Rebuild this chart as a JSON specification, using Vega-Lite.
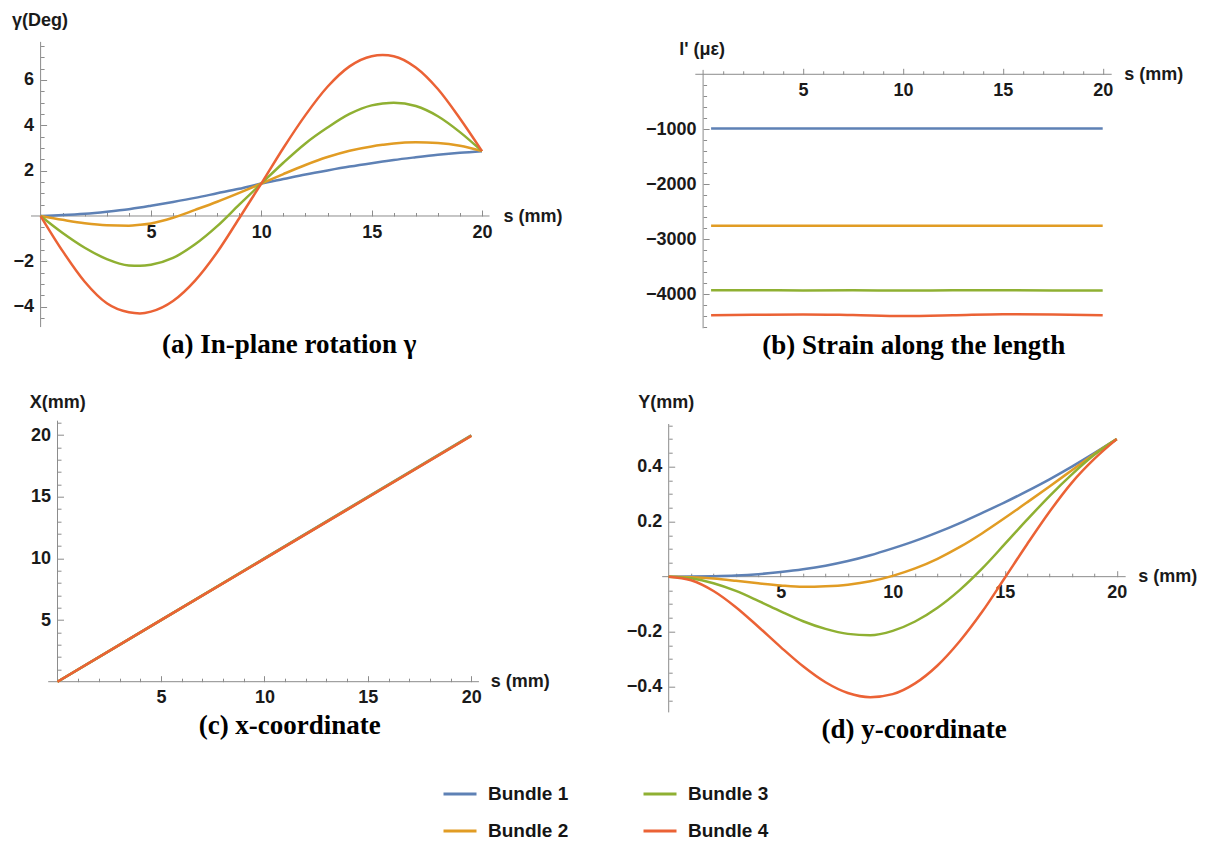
{
  "$schema": "https://vega.github.io/schema/vega-lite/v6.json",
  "padding": {"left": 11, "top": 11, "right": 0, "bottom": 0},
  "background": "white",
  "datasets": {
    "gamma": [
      {"s": 0, "Bundle 1": 0, "Bundle 2": 0, "Bundle 3": 0, "Bundle 4": 0},
      {"s": 1, "Bundle 1": 0.04, "Bundle 2": -0.17, "Bundle 3": -0.75, "Bundle 4": -1.55},
      {"s": 2, "Bundle 1": 0.1, "Bundle 2": -0.32, "Bundle 3": -1.4, "Bundle 4": -2.9},
      {"s": 3, "Bundle 1": 0.19, "Bundle 2": -0.41, "Bundle 3": -1.9, "Bundle 4": -3.85},
      {"s": 4, "Bundle 1": 0.3, "Bundle 2": -0.43, "Bundle 3": -2.18, "Bundle 4": -4.25},
      {"s": 4.5, "Bundle 1": 0.37, "Bundle 2": -0.39, "Bundle 3": -2.2, "Bundle 4": -4.3},
      {"s": 5, "Bundle 1": 0.45, "Bundle 2": -0.33, "Bundle 3": -2.15, "Bundle 4": -4.22},
      {"s": 6, "Bundle 1": 0.62, "Bundle 2": -0.08, "Bundle 3": -1.85, "Bundle 4": -3.75},
      {"s": 7, "Bundle 1": 0.8, "Bundle 2": 0.27, "Bundle 3": -1.25, "Bundle 4": -2.85},
      {"s": 8, "Bundle 1": 1.0, "Bundle 2": 0.63, "Bundle 3": -0.45, "Bundle 4": -1.6},
      {"s": 9, "Bundle 1": 1.2, "Bundle 2": 1.02, "Bundle 3": 0.5, "Bundle 4": -0.1},
      {"s": 10, "Bundle 1": 1.43, "Bundle 2": 1.43, "Bundle 3": 1.43, "Bundle 4": 1.43},
      {"s": 11, "Bundle 1": 1.63, "Bundle 2": 1.85, "Bundle 3": 2.35, "Bundle 4": 3.0},
      {"s": 12, "Bundle 1": 1.83, "Bundle 2": 2.25, "Bundle 3": 3.2, "Bundle 4": 4.45},
      {"s": 13, "Bundle 1": 2.01, "Bundle 2": 2.6, "Bundle 3": 3.9, "Bundle 4": 5.7},
      {"s": 14, "Bundle 1": 2.18, "Bundle 2": 2.88, "Bundle 3": 4.5, "Bundle 4": 6.6},
      {"s": 15, "Bundle 1": 2.33, "Bundle 2": 3.07, "Bundle 3": 4.88, "Bundle 4": 7.05},
      {"s": 15.5, "Bundle 1": 2.4, "Bundle 2": 3.14, "Bundle 3": 4.96, "Bundle 4": 7.1},
      {"s": 16, "Bundle 1": 2.47, "Bundle 2": 3.2, "Bundle 3": 5.0, "Bundle 4": 7.05},
      {"s": 17, "Bundle 1": 2.59, "Bundle 2": 3.25, "Bundle 3": 4.85, "Bundle 4": 6.55},
      {"s": 18, "Bundle 1": 2.7, "Bundle 2": 3.22, "Bundle 3": 4.4, "Bundle 4": 5.6},
      {"s": 19, "Bundle 1": 2.79, "Bundle 2": 3.1, "Bundle 3": 3.7, "Bundle 4": 4.3},
      {"s": 20, "Bundle 1": 2.86, "Bundle 2": 2.86, "Bundle 3": 2.86, "Bundle 4": 2.86}
    ],
    "strain": [
      {"s": 0.4, "Bundle 1": -985, "Bundle 2": -2755, "Bundle 3": -3928, "Bundle 4": -4380},
      {"s": 2.5, "Bundle 1": -985, "Bundle 2": -2755, "Bundle 3": -3925, "Bundle 4": -4372},
      {"s": 5, "Bundle 1": -985, "Bundle 2": -2755, "Bundle 3": -3930, "Bundle 4": -4365},
      {"s": 7.5, "Bundle 1": -985, "Bundle 2": -2755, "Bundle 3": -3926, "Bundle 4": -4378},
      {"s": 10, "Bundle 1": -985, "Bundle 2": -2755, "Bundle 3": -3932, "Bundle 4": -4395},
      {"s": 12.5, "Bundle 1": -985, "Bundle 2": -2755, "Bundle 3": -3927, "Bundle 4": -4382},
      {"s": 15, "Bundle 1": -985, "Bundle 2": -2755, "Bundle 3": -3924, "Bundle 4": -4362},
      {"s": 17.5, "Bundle 1": -985, "Bundle 2": -2755, "Bundle 3": -3929, "Bundle 4": -4368},
      {"s": 20, "Bundle 1": -985, "Bundle 2": -2755, "Bundle 3": -3930, "Bundle 4": -4380}
    ],
    "xcoord": [
      {"s": 0, "Bundle 1": 0, "Bundle 2": 0, "Bundle 3": 0, "Bundle 4": 0},
      {"s": 5, "Bundle 1": 5, "Bundle 2": 5, "Bundle 3": 4.99, "Bundle 4": 4.99},
      {"s": 10, "Bundle 1": 10, "Bundle 2": 9.99, "Bundle 3": 9.98, "Bundle 4": 9.96},
      {"s": 15, "Bundle 1": 15, "Bundle 2": 14.98, "Bundle 3": 14.96, "Bundle 4": 14.94},
      {"s": 20, "Bundle 1": 19.99, "Bundle 2": 19.97, "Bundle 3": 19.95, "Bundle 4": 19.93}
    ],
    "ycoord": [
      {"s": 0, "Bundle 1": 0, "Bundle 2": 0, "Bundle 3": 0, "Bundle 4": 0},
      {"s": 1, "Bundle 1": 0.0003, "Bundle 2": -0.002, "Bundle 3": -0.006, "Bundle 4": -0.013},
      {"s": 2, "Bundle 1": 0.0015, "Bundle 2": -0.007, "Bundle 3": -0.024, "Bundle 4": -0.052},
      {"s": 3, "Bundle 1": 0.004, "Bundle 2": -0.015, "Bundle 3": -0.052, "Bundle 4": -0.111},
      {"s": 4, "Bundle 1": 0.009, "Bundle 2": -0.024, "Bundle 3": -0.088, "Bundle 4": -0.182},
      {"s": 5, "Bundle 1": 0.017, "Bundle 2": -0.032, "Bundle 3": -0.126, "Bundle 4": -0.256},
      {"s": 6, "Bundle 1": 0.027, "Bundle 2": -0.037, "Bundle 3": -0.162, "Bundle 4": -0.326},
      {"s": 7, "Bundle 1": 0.04, "Bundle 2": -0.035, "Bundle 3": -0.19, "Bundle 4": -0.384},
      {"s": 8, "Bundle 1": 0.057, "Bundle 2": -0.029, "Bundle 3": -0.208, "Bundle 4": -0.423},
      {"s": 9, "Bundle 1": 0.078, "Bundle 2": -0.017, "Bundle 3": -0.213, "Bundle 4": -0.438},
      {"s": 10, "Bundle 1": 0.103, "Bundle 2": 0.003, "Bundle 3": -0.197, "Bundle 4": -0.427},
      {"s": 11, "Bundle 1": 0.13, "Bundle 2": 0.03, "Bundle 3": -0.163, "Bundle 4": -0.388},
      {"s": 12, "Bundle 1": 0.161, "Bundle 2": 0.065, "Bundle 3": -0.113, "Bundle 4": -0.323},
      {"s": 13, "Bundle 1": 0.195, "Bundle 2": 0.108, "Bundle 3": -0.048, "Bundle 4": -0.234},
      {"s": 14, "Bundle 1": 0.232, "Bundle 2": 0.158, "Bundle 3": 0.03, "Bundle 4": -0.127},
      {"s": 15, "Bundle 1": 0.27, "Bundle 2": 0.213, "Bundle 3": 0.118, "Bundle 4": -0.005},
      {"s": 16, "Bundle 1": 0.311, "Bundle 2": 0.27, "Bundle 3": 0.207, "Bundle 4": 0.118},
      {"s": 17, "Bundle 1": 0.354, "Bundle 2": 0.328, "Bundle 3": 0.293, "Bundle 4": 0.236},
      {"s": 18, "Bundle 1": 0.4, "Bundle 2": 0.387, "Bundle 3": 0.372, "Bundle 4": 0.342},
      {"s": 19, "Bundle 1": 0.449, "Bundle 2": 0.446, "Bundle 3": 0.443, "Bundle 4": 0.428},
      {"s": 20, "Bundle 1": 0.5, "Bundle 2": 0.5, "Bundle 3": 0.5, "Bundle 4": 0.5}
    ]
  },
  "columns": 2,
  "bounds": "flush",
  "spacing": {"row": 91.7, "column": 172.2},
  "concat": [
    {
      "width": 458.5,
      "height": 286.3,
      "title": {"text": "(a) In-plane rotation γ", "dx": 29, "offset": 4},
      "data": {"name": "gamma"},
      "transform": [{"fold": ["Bundle 1", "Bundle 2", "Bundle 3", "Bundle 4"], "as": ["bundle", "v"]}],
      "resolve": {"axis": {"x": "independent", "y": "independent"}},
      "layer": [
        {
          "data": {"values": [{}]},
          "mark": {"type": "rule", "color": "#8c8c8c", "strokeWidth": 1},
          "encoding": {
            "x": {"datum": -0.435, "type": "quantitative",
              "axis": {"orient": "bottom", "offset": -112.3, "labels": false, "title": null, "tickSize": -3.5,
                "values": [1,2,3,4,6,7,8,9,11,12,13,14,16,17,18,19]}},
            "x2": {"datum": 20.34},
            "y": {"datum": 0, "type": "quantitative",
              "axis": {"orient": "left", "offset": -9.6, "labels": false, "title": null, "tickSize": -3.5,
                "values": [-4.5,-3.5,-3,-2.5,-1.5,-1,-0.5,0.5,1,1.5,2.5,3,3.5,4.5,5,5.5,6.5,7,7.5]}}
          }
        },
        {
          "data": {"values": [{}]},
          "mark": {"type": "rule", "color": "#8c8c8c", "strokeWidth": 1},
          "encoding": {
            "x": {"datum": 0, "type": "quantitative", "axis": null},
            "y": {"datum": -4.9, "type": "quantitative", "axis": null},
            "y2": {"datum": 7.68}
          }
        },
        {
          "mark": {"type": "line", "strokeWidth": 2.5, "interpolate": "monotone"},
          "encoding": {
            "x": {
              "field": "s", "type": "quantitative",
              "scale": {"domain": [-0.435, 20.34], "nice": false, "zero": false},
              "axis": {
                "orient": "bottom", "offset": -112.3, "format": "d",
                "values": [5, 10, 15, 20], "tickSize": -6, "labelPadding": 13,
                "title": "s (mm)", "titleX": 472, "titleY": 0, "titleAngle": 0, "titleAlign": "left", "titleBaseline": "middle"
              }
            },
            "y": {
              "field": "v", "type": "quantitative",
              "scale": {"domain": [-4.954, 7.675], "nice": false, "zero": false},
              "axis": {
                "orient": "left", "offset": -9.6, "format": "d",
                "values": [-4, -2, 2, 4, 6], "tickSize": -6, "labelPadding": 13,
                "title": "γ(Deg)", "titleX": -29, "titleY": -22, "titleAngle": 0, "titleAlign": "left", "titleBaseline": "middle"
              }
            },
            "color": {
              "field": "bundle", "type": "nominal",
              "scale": {"domain": ["Bundle 1", "Bundle 2", "Bundle 3", "Bundle 4"], "range": ["#5E81B5", "#E19C24", "#8FB032", "#EB6235"]},
              "legend": {
                "orient": "none", "legendX": 411, "legendY": 734, "columns": 2, "title": null,
                "symbolType": "stroke", "symbolSize": 1089, "symbolStrokeWidth": 3,
                "labelFont": "Liberation Sans", "labelFontSize": 19, "labelFontWeight": "bold", "labelColor": "#151515",
                "labelOffset": 10, "columnPadding": 68, "rowPadding": 9, "padding": 0
              }
            }
          }
        }
      ]
    },
    {
      "width": 463.8,
      "height": 286.3,
      "title": {"text": "(b) Strain along the length", "dx": 19.6, "offset": 4},
      "data": {"name": "strain"},
      "transform": [{"fold": ["Bundle 1", "Bundle 2", "Bundle 3", "Bundle 4"], "as": ["bundle", "v"]}],
      "resolve": {"axis": {"x": "independent", "y": "independent"}},
      "layer": [
        {
          "data": {"values": [{}]},
          "mark": {"type": "rule", "color": "#8c8c8c", "strokeWidth": 1},
          "encoding": {
            "x": {"datum": -0.39, "type": "quantitative",
              "axis": {"orient": "bottom", "offset": -254, "labels": false, "title": null, "tickSize": -3.5,
                "values": [1,2,3,4,6,7,8,9,11,12,13,14,16,17,18,19]}},
            "x2": {"datum": 20.45},
            "y": {"datum": 0, "type": "quantitative",
              "axis": {"orient": "left", "offset": -40.9, "labels": false, "title": null, "tickSize": -3.5,
                "values": [-4600,-4400,-4200,-3800,-3600,-3400,-3200,-2800,-2600,-2400,-2200,-1800,-1600,-1400,-1200,-800,-600,-400,-200]}}
          }
        },
        {
          "data": {"values": [{}]},
          "mark": {"type": "rule", "color": "#8c8c8c", "strokeWidth": 1},
          "encoding": {
            "x": {"datum": 0, "type": "quantitative", "axis": null},
            "y": {"datum": -4618, "type": "quantitative", "axis": null},
            "y2": {"datum": 80}
          }
        },
        {
          "mark": {"type": "line", "strokeWidth": 2.5, "interpolate": "monotone"},
          "encoding": {
            "x": {
              "field": "s", "type": "quantitative",
              "scale": {"domain": [-2.047, 21.166], "nice": false, "zero": false},
              "axis": {
                "orient": "bottom", "offset": -254, "format": "d",
                "values": [5, 10, 15, 20], "tickSize": -6, "labelPadding": 13,
                "title": "s (mm)", "titleX": 461.5, "titleY": 0, "titleAngle": 0, "titleAlign": "left", "titleBaseline": "middle"
              }
            },
            "y": {
              "field": "v", "type": "quantitative",
              "scale": {"domain": [-4618, 587], "nice": false, "zero": false},
              "axis": {
                "orient": "left", "offset": -40.9, "format": "d",
                "values": [-4000, -3000, -2000, -1000], "tickSize": -6, "labelPadding": 13,
                "title": "l' (με)", "titleX": -24.4, "titleY": 7, "titleAngle": 0, "titleAlign": "left", "titleBaseline": "middle"
              }
            },
            "color": {
              "field": "bundle", "type": "nominal",
              "scale": {"domain": ["Bundle 1", "Bundle 2", "Bundle 3", "Bundle 4"], "range": ["#5E81B5", "#E19C24", "#8FB032", "#EB6235"]}
            }
          }
        }
      ]
    },
    {
      "width": 458.5,
      "height": 291.7,
      "title": {"text": "(c)  x-coordinate", "dx": 29.5, "offset": 1},
      "data": {"name": "xcoord"},
      "transform": [{"fold": ["Bundle 1", "Bundle 2", "Bundle 3", "Bundle 4"], "as": ["bundle", "v"]}],
      "resolve": {"axis": {"x": "independent", "y": "independent"}},
      "layer": [
        {
          "data": {"values": [{}]},
          "mark": {"type": "rule", "color": "#8c8c8c", "strokeWidth": 1},
          "encoding": {
            "x": {"datum": -0.45, "type": "quantitative",
              "axis": {"orient": "bottom", "offset": -30.7, "labels": false, "title": null, "tickSize": -3.5,
                "values": [1,2,3,4,6,7,8,9,11,12,13,14,16,17,18,19]}},
            "x2": {"datum": 20.37},
            "y": {"datum": 0, "type": "quantitative",
              "axis": {"orient": "left", "offset": -26.5, "labels": false, "title": null, "tickSize": -3.5,
                "values": [1,2,3,4,6,7,8,9,11,12,13,14,16,17,18,19,21]}}
          }
        },
        {
          "data": {"values": [{}]},
          "mark": {"type": "rule", "color": "#8c8c8c", "strokeWidth": 1},
          "encoding": {
            "x": {"datum": 0, "type": "quantitative", "axis": null},
            "y": {"datum": 0, "type": "quantitative", "axis": null},
            "y2": {"datum": 21.17}
          }
        },
        {
          "mark": {"type": "line", "strokeWidth": 2.5},
          "encoding": {
            "x": {
              "field": "s", "type": "quantitative",
              "scale": {"domain": [-1.281, 20.88], "nice": false, "zero": false},
              "axis": {
                "orient": "bottom", "offset": -30.7, "format": "d",
                "values": [5, 10, 15, 20], "tickSize": -6, "labelPadding": 13,
                "title": "s (mm)", "titleX": 459.2, "titleY": 0, "titleAngle": 0, "titleAlign": "left", "titleBaseline": "middle"
              }
            },
            "y": {
              "field": "v", "type": "quantitative",
              "scale": {"domain": [-2.49, 21.17], "nice": false, "zero": false},
              "axis": {
                "orient": "left", "offset": -26.5, "format": "d",
                "values": [5, 10, 15, 20], "tickSize": -6, "labelPadding": 13,
                "title": "X(mm)", "titleX": -28.3, "titleY": -18, "titleAngle": 0, "titleAlign": "left", "titleBaseline": "middle"
              }
            },
            "color": {
              "field": "bundle", "type": "nominal",
              "scale": {"domain": ["Bundle 1", "Bundle 2", "Bundle 3", "Bundle 4"], "range": ["#5E81B5", "#E19C24", "#8FB032", "#EB6235"]}
            }
          }
        }
      ]
    },
    {
      "width": 463.8,
      "height": 291.7,
      "title": {"text": "(d) y-coordinate", "dx": 20, "offset": 4},
      "data": {"name": "ycoord"},
      "transform": [{"fold": ["Bundle 1", "Bundle 2", "Bundle 3", "Bundle 4"], "as": ["bundle", "v"]}],
      "resolve": {"axis": {"x": "independent", "y": "independent"}},
      "layer": [
        {
          "data": {"values": [{}]},
          "mark": {"type": "rule", "color": "#8c8c8c", "strokeWidth": 1},
          "encoding": {
            "x": {"datum": -0.29, "type": "quantitative",
              "axis": {"orient": "bottom", "offset": -135.7, "labels": false, "title": null, "tickSize": -3.5,
                "values": [1,2,3,4,6,7,8,9,11,12,13,14,16,17,18,19]}},
            "x2": {"datum": 20.4},
            "y": {"datum": 0, "type": "quantitative",
              "axis": {"orient": "left", "offset": -6.5, "labels": false, "title": null, "tickSize": -3.5,
                "values": [-0.45,-0.35,-0.3,-0.25,-0.15,-0.1,-0.05,0.05,0.1,0.15,0.25,0.3,0.35,0.45,0.5,0.55]}}
          }
        },
        {
          "data": {"values": [{}]},
          "mark": {"type": "rule", "color": "#8c8c8c", "strokeWidth": 1},
          "encoding": {
            "x": {"datum": 0, "type": "quantitative", "axis": null},
            "y": {"datum": -0.4935, "type": "quantitative", "axis": null},
            "y2": {"datum": 0.555}
          }
        },
        {
          "mark": {"type": "line", "strokeWidth": 2.5, "interpolate": "monotone"},
          "encoding": {
            "x": {
              "field": "s", "type": "quantitative",
              "scale": {"domain": [-0.29, 20.415], "nice": false, "zero": false},
              "axis": {
                "orient": "bottom", "offset": -135.7, "format": "d",
                "values": [5, 10, 15, 20], "tickSize": -6, "labelPadding": 13,
                "title": "s (mm)", "titleX": 475.5, "titleY": 0, "titleAngle": 0, "titleAlign": "left", "titleBaseline": "middle"
              }
            },
            "y": {
              "field": "v", "type": "quantitative",
              "scale": {"domain": [-0.4935, 0.567], "nice": false, "zero": false},
              "axis": {
                "orient": "left", "offset": -6.5, "format": ".1f",
                "values": [-0.4, -0.2, 0.2, 0.4], "tickSize": -6, "labelPadding": 13,
                "title": "Y(mm)", "titleX": -31, "titleY": -18, "titleAngle": 0, "titleAlign": "left", "titleBaseline": "middle"
              }
            },
            "color": {
              "field": "bundle", "type": "nominal",
              "scale": {"domain": ["Bundle 1", "Bundle 2", "Bundle 3", "Bundle 4"], "range": ["#5E81B5", "#E19C24", "#8FB032", "#EB6235"]}
            }
          }
        }
      ]
    }
  ],
  "config": {
    "view": {"stroke": null},
    "font": "Liberation Sans",
    "axis": {
      "domain": false, "grid": false,
      "tickColor": "#8c8c8c", "tickWidth": 1,
      "labelFont": "Liberation Sans", "labelFontSize": 18, "labelFontWeight": "bold", "labelColor": "#1a1a1a",
      "labelOverlap": false, "labelFlush": false, "labelBound": false,
      "titleFont": "Liberation Sans", "titleFontSize": 18, "titleFontWeight": "bold", "titleColor": "#1a1a1a", "titlePadding": 0
    },
    "title": {
      "orient": "bottom", "anchor": "middle", "frame": "group",
      "font": "Liberation Serif", "fontSize": 27, "fontWeight": "bold", "color": "#000000"
    }
  }
}
